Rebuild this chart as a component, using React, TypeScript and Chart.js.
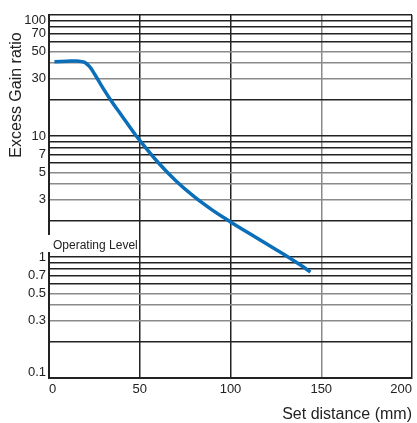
import React, { useEffect, useRef } from "react";
import { Chart, registerables } from "chart.js";

Chart.register(...registerables);

const distances = [3, 10, 15, 18, 20, 22.5, 25, 30, 35, 40, 45, 50, 60, 70, 80, 90, 100, 110, 120, 130, 140, 144];
const gainRatios = [41.1, 41.5, 41.7, 41.2, 40.3, 37.2, 32.7, 24.5, 18.8, 14.8, 11.6, 9.2, 6.07, 4.25, 3.15, 2.44, 1.95, 1.58, 1.28, 1.04, 0.83, 0.75];

const yGridValues = [
  0.1, 0.2, 0.3, 0.4, 0.5, 0.6, 0.7, 0.8, 0.9,
  1, 2, 3, 4, 5, 6, 7, 8, 9,
  10, 20, 30, 40, 50, 60, 70, 80, 90, 100,
];
const yLabelValues = [0.1, 0.3, 0.5, 0.7, 1, 3, 5, 7, 10, 30, 50, 70, 100];
const xTickValues = [0, 50, 100, 150, 200];

const xTitle = "Set distance (mm)";
const yTitle = "Excess Gain ratio";
const operatingLabel = "Operating Level";

const FONT = "'Liberation Sans', Arial, Helvetica, sans-serif";

function mantissa(v: number): number {
  const m = v / Math.pow(10, Math.floor(Math.log10(v) + 1e-9));
  return Math.round(m);
}

export default function App() {
  const ref = useRef<HTMLCanvasElement | null>(null);

  useEffect(() => {
    if (!ref.current) return;
    const overlay = {
      id: "overlay",
      afterDraw(chart: any) {
        const ctx = chart.ctx;
        ctx.save();
        ctx.fillStyle = "#ffffff";
        ctx.fillRect(47, 235, 92, 17);
        ctx.fillStyle = "#222";
        ctx.font = `12px ${FONT}`;
        ctx.textAlign = "left";
        ctx.textBaseline = "alphabetic";
        ctx.fillText(operatingLabel, 53, 249);
        ctx.font = `16px ${FONT}`;
        ctx.textAlign = "right";
        ctx.fillText(xTitle, 412, 419);
        ctx.translate(21, 95);
        ctx.rotate(-Math.PI / 2);
        ctx.textAlign = "center";
        ctx.fillText(yTitle, 0, 0);
        ctx.restore();
      },
    };

    const chart = new Chart(ref.current, {
      type: "line",
      data: {
        datasets: [
          {
            data: distances.map((d, i) => ({ x: d, y: gainRatios[i] })),
            borderColor: "#0a6fb8",
            borderWidth: 3.5,
            pointRadius: 0,
            tension: 0.4,
            fill: false,
          },
        ],
      },
      options: {
        animation: false,
        responsive: false,
        layout: { padding: { left: 0, right: 5, top: 15, bottom: 0 } },
        plugins: { legend: { display: false }, tooltip: { enabled: false } },
        scales: {
          x: {
            type: "linear",
            min: 0,
            max: 200,
            afterBuildTicks: (scale: any) => {
              scale.ticks = xTickValues.map((v) => ({ value: v }));
            },
            afterFit: (scale: any) => {
              scale.height = 45;
            },
            ticks: {
              align: "inner",
              padding: 4,
              color: "#222",
              font: { size: 13, family: FONT },
              autoSkip: false,
              maxRotation: 0,
            },
            grid: {
              drawTicks: false,
              lineWidth: 1.5,
              color: (c: any) => (c.tick && c.tick.value === 150 ? "#8a8a8a" : "#222"),
            },
            border: { display: true, width: 2, color: "#222" },
          },
          y: {
            type: "logarithmic",
            min: 0.1,
            max: 100,
            afterBuildTicks: (scale: any) => {
              scale.ticks = yGridValues.map((v) => ({ value: v }));
            },
            afterFit: (scale: any) => {
              scale.width = 49;
            },
            ticks: {
              padding: 3,
              color: "#222",
              font: { size: 13, family: FONT, lineHeight: 0.9 },
              autoSkip: false,
              callback: (value: any) => {
                const v = Number(value);
                const found = yLabelValues.find((l) => Math.abs(l - v) / l < 1e-6);
                if (found === undefined) return "";
                if (found === 100) return ["", "100"];
                if (found === 0.1) return ["0.1", ""];
                return String(found);
              },
            },
            grid: {
              drawTicks: false,
              lineWidth: 1.5,
              color: (c: any) => {
                if (!c.tick) return "#222";
                const m = mantissa(c.tick.value);
                return m === 3 || m === 4 || m === 5 ? "#8a8a8a" : "#222";
              },
            },
            border: { display: true, width: 2, color: "#222" },
          },
        },
      },
      plugins: [overlay],
    } as any);
    return () => chart.destroy();
  }, []);

  return (
    <div style={{ position: "fixed", left: 0, top: 0, width: 417, height: 423, background: "#fff" }}>
      <canvas ref={ref} width={417} height={423} style={{ display: "block", width: 417, height: 423 }} />
    </div>
  );
}
